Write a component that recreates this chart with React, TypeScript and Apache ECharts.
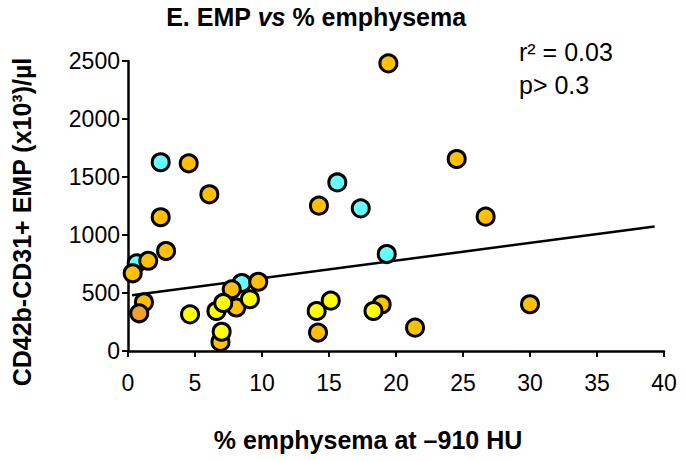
import React, { useEffect, useRef } from "react";
import * as echarts from "echarts";

const cyanPoints: number[][] = [
  [2.44, 1627], [0.65, 756], [8.49, 586], [15.62, 1453], [17.37, 1230], [19.31, 836],
];
const orangePoints: number[][] = [
  [4.53, 1618], [6.07, 1351], [2.44, 1153], [2.84, 862], [1.51, 778], [0.35, 670],
  [1.19, 420], [6.9, 78], [7.74, 532], [8.08, 375], [9.72, 597], [14.25, 1253],
  [14.18, 159], [18.93, 401], [21.42, 201], [26.69, 1158], [30.0, 403], [19.43, 2480],
  [24.53, 1655],
];
const darkOrangePoints: number[][] = [[0.84, 325]];
const yellowPoints: number[][] = [
  [4.63, 316], [6.6, 345], [6.99, 166], [7.11, 414], [9.1, 446], [14.08, 345],
  [15.13, 434], [18.32, 345],
];
const trendLine: number[][] = [[0.3, 480], [39.3, 1073]];

const xTitle = "% emphysema at \u2013910 HU";
const yTitle = "CD42b-CD31+ EMP (x10\u00b3)/\u00b5l";
const statR = "r\u00b2 = 0.03";
const statP = "p> 0.3";

const FONT = "'Liberation Sans', Arial, sans-serif";

export default function App() {
  const ref = useRef<HTMLDivElement>(null);
  useEffect(() => {
    if (!ref.current) return;
    const chart = echarts.init(ref.current, null, { renderer: "svg" });
    const sym = (color: string) => ({
      color,
      borderColor: "#000",
      borderWidth: 3,
      opacity: 1,
    });
    chart.setOption({
      animation: false,
      backgroundColor: "#fff",
      textStyle: { fontFamily: FONT },
      grid: { left: 128, right: 22, top: 61, bottom: 110 },
      xAxis: {
        type: "value",
        min: 0,
        max: 40,
        interval: 5,
        splitLine: { show: false },
        axisLine: { show: true, onZero: false, lineStyle: { color: "#000", width: 2.5 } },
        axisTick: { show: true, length: 6, lineStyle: { color: "#000", width: 2 } },
        axisLabel: { color: "#000", fontSize: 23, fontFamily: FONT, margin: 20 },
      },
      yAxis: {
        type: "value",
        min: 0,
        max: 2500,
        interval: 500,
        splitLine: { show: false },
        axisLine: { show: true, lineStyle: { color: "#000", width: 2.5 } },
        axisTick: { show: true, length: 6, lineStyle: { color: "#000", width: 2 } },
        axisLabel: {
          color: "#000",
          fontSize: 23,
          fontFamily: FONT,
          margin: 8,
          formatter: (v: number) => String(v),
        },
      },
      series: [
        {
          type: "line",
          data: trendLine,
          showSymbol: false,
          symbol: "none",
          lineStyle: { color: "#000", width: 2.5 },
          z: 1,
        },
        { type: "scatter", data: cyanPoints, symbolSize: 17, itemStyle: sym("#66FFFF"), z: 2 },
        { type: "scatter", data: orangePoints, symbolSize: 17, itemStyle: sym("#FFC000"), z: 3 },
        { type: "scatter", data: darkOrangePoints, symbolSize: 17, itemStyle: sym("#F0A030"), z: 3 },
        { type: "scatter", data: yellowPoints, symbolSize: 17, itemStyle: sym("#FFFF00"), z: 4 },
      ],
      graphic: [
        {
          type: "text",
          x: 316,
          y: 17,
          style: {
            text: "{b|E. EMP }{i|vs}{b| % emphysema}",
            align: "center",
            verticalAlign: "middle",
            rich: {
              b: { fontSize: 25, fontWeight: "bold", fontFamily: FONT, fill: "#000" },
              i: { fontSize: 25, fontWeight: "bold", fontStyle: "italic", fontFamily: FONT, fill: "#000" },
            },
          },
        },
        {
          type: "text",
          x: 368,
          y: 440,
          style: {
            text: xTitle,
            align: "center",
            verticalAlign: "middle",
            fontSize: 25,
            fontWeight: "bold",
            fontFamily: FONT,
            fill: "#000",
          },
        },
        {
          type: "text",
          x: 22,
          y: 222,
          rotation: Math.PI / 2,
          style: {
            text: yTitle,
            align: "center",
            verticalAlign: "middle",
            fontSize: 25,
            fontWeight: "bold",
            fontFamily: FONT,
            fill: "#000",
          },
        },
        {
          type: "text",
          x: 519,
          y: 52,
          style: {
            text: statR,
            align: "left",
            verticalAlign: "middle",
            fontSize: 25,
            fontFamily: FONT,
            fill: "#000",
          },
        },
        {
          type: "text",
          x: 519,
          y: 85,
          style: {
            text: statP,
            align: "left",
            verticalAlign: "middle",
            fontSize: 25,
            fontFamily: FONT,
            fill: "#000",
          },
        },
      ],
    });
    return () => chart.dispose();
  }, []);
  return (
    <div
      ref={ref}
      style={{ position: "fixed", left: 0, top: 0, width: 686, height: 461 }}
    />
  );
}
